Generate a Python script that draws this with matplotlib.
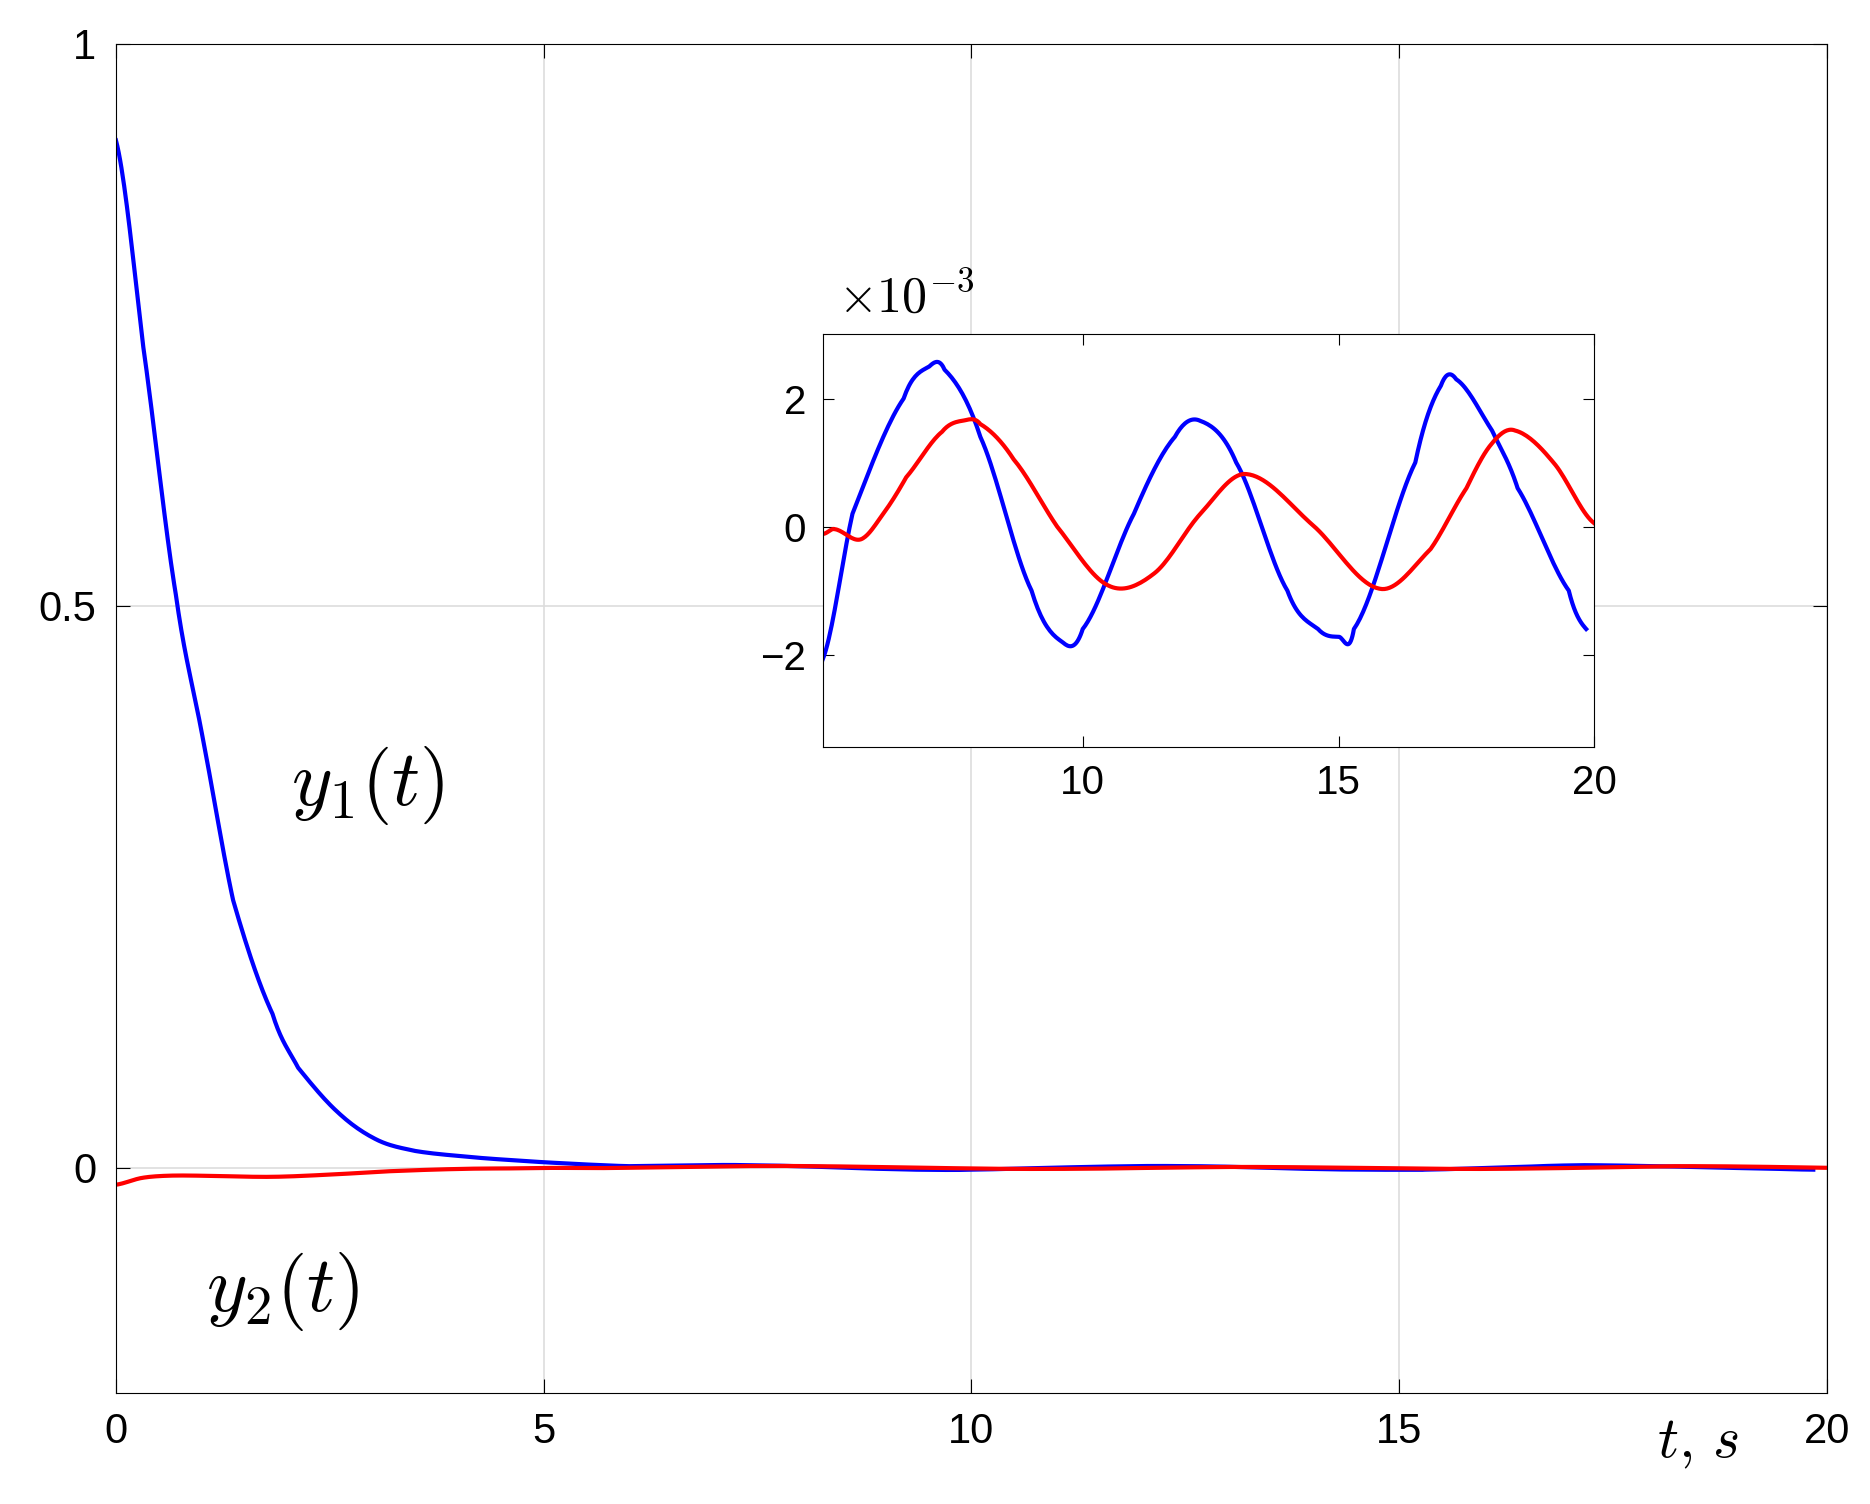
import numpy as np
import matplotlib
matplotlib.use("Agg")
import matplotlib.pyplot as plt

plt.rcParams['font.family'] = ['Arial', 'Liberation Sans', 'DejaVu Sans']
plt.rcParams['mathtext.fontset'] = 'cm'

# early transient (main scale)
t1_early = [0, 0.32, 0.7, 1.02, 1.37, 1.83, 2.13, 2.6, 3.05, 3.5, 4.1, 4.6, 5.0, 5.5, 6.0]
y1_early = [0.914, 0.73, 0.51, 0.38, 0.238, 0.137, 0.089, 0.049, 0.025, 0.015, 0.010, 0.007, 0.005, 0.003, 0.0015]
# late oscillation (x1e-3)
t1_late = [4.92, 5.5, 6.5, 7.0, 7.3, 8.0, 9.0, 9.6, 10.0, 11.0, 11.8, 12.3, 13.0, 14.0, 14.6, 15.0, 15.3, 16.5, 17.0, 17.3, 18.0, 18.5, 19.5, 19.84]
y1_late = [-2.07, 0.2, 2.0, 2.5, 2.45, 1.4, -1.0, -1.8, -1.6, 0.2, 1.4, 1.65, 1.0, -1.0, -1.6, -1.72, -1.6, 1.0, 2.2, 2.3, 1.5, 0.6, -1.0, -1.6]
t2_early = [0, 0.3, 0.6, 1.0, 1.8, 2.5, 3.2, 4.0, 4.6]
y2_early = [-0.015, -0.009, -0.007, -0.007, -0.008, -0.006, -0.003, -0.001, -0.0005]
t2_late = [4.95, 5.15, 5.66, 6.1, 6.55, 7.25, 7.7, 8.0, 8.65, 9.5, 10.5, 11.4, 12.3, 13.2, 14.5, 15.8, 16.8, 17.5, 18.0, 18.45, 19.2, 20.0]
y2_late = [-0.11, -0.04, -0.2, 0.2, 0.77, 1.48, 1.66, 1.6, 1.05, 0.0, -0.92, -0.73, 0.2, 0.82, 0.02, -0.97, -0.35, 0.6, 1.3, 1.5, 1.0, 0.05]

def smooth(t, y):
    t = np.asarray(t, float); y = np.asarray(y, float)
    ts, ys = [], []
    for i in range(len(t) - 1):
        p0 = y[max(i - 1, 0)]; p1 = y[i]; p2 = y[i + 1]; p3 = y[min(i + 2, len(t) - 1)]
        s = np.linspace(0, 1, 20, endpoint=False)
        ts.append(t[i] + (t[i + 1] - t[i]) * s)
        ys.append(0.5 * (2 * p1 + (-p0 + p2) * s + (2 * p0 - 5 * p1 + 4 * p2 - p3) * s**2 + (-p0 + 3 * p1 - 3 * p2 + p3) * s**3))
    ts.append([t[-1]]); ys.append([y[-1]])
    return np.concatenate(ts), np.concatenate(ys)

t1l, y1l = smooth(t1_late, y1_late)
t2l, y2l = smooth(t2_late, y2_late)
t1e, y1e = smooth(t1_early, y1_early)
t2e, y2e = smooth(t2_early, y2_early)

fig = plt.figure(figsize=(18.7, 15.04), dpi=100)
ax = fig.add_axes([0.062, 0.074, 0.915, 0.897])
m1 = t1l > 6.5
ax.plot(np.concatenate([t1e, t1l[m1]]), np.concatenate([y1e, y1l[m1] * 1e-3]), color='#0000ff', lw=3)
ax.plot(np.concatenate([t2e, t2l]), np.concatenate([y2e, y2l * 1e-3]), color='#ff0000', lw=3)
ax.set_xlim(0, 20); ax.set_ylim(-0.2, 1)
ax.set_xticks([0, 5, 10, 15, 20]); ax.set_yticks([0, 0.5, 1])
ax.set_xticklabels(['0', '5', '10', '15', '20']); ax.set_yticklabels(['0', '0.5', '1'])
ax.grid(True, color='#dddddd', lw=1.2)
ax.tick_params(direction='in', top=True, right=True, length=10, labelsize=30, pad=14)
ax.text(2.05, 0.34, r'$y_1(t)$', fontsize=56, ha='left', va='center')
ax.text(1.05, -0.11, r'$y_2(t)$', fontsize=56, ha='left', va='center')
ax.text(18.5, -0.245, r'$t,\,s$', fontsize=42, ha='center', va='center')

ins = fig.add_axes([0.44, 0.503, 0.4126, 0.2746])
ins.plot(t1l, y1l, color='#0000ff', lw=3)
ins.plot(t2l, y2l, color='#ff0000', lw=3)
ins.set_xlim(4.92, 20); ins.set_ylim(-3.45, 3.0)
ins.set_xticks([10, 15, 20]); ins.set_yticks([-2, 0, 2])
ins.set_yticklabels(['\u22122', '0', '2'])
ins.tick_params(direction='in', top=True, right=True, length=8, labelsize=29, pad=12)
ins.text(0.02, 1.03, r'$\times10^{-3}$', transform=ins.transAxes, fontsize=36, ha='left', va='bottom')

fig.savefig('out.png', dpi=100)
